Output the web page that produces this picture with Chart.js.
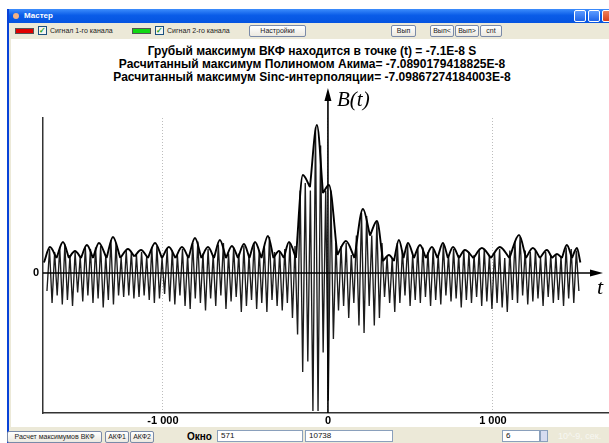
<!DOCTYPE html>
<html><head><meta charset="utf-8">
<script src="https://cdn.jsdelivr.net/npm/chart.js@4"></script>
<style>
html,body{margin:0;padding:0;width:609px;height:443px;overflow:hidden;background:#fff;font-family:"Liberation Sans",Arial,sans-serif}
#win{position:absolute;left:7px;top:9px;width:700px;height:440px;background:#ECE9D8;border-left:2px solid #0842d8}
#titlebar{position:absolute;left:0;top:0;width:700px;height:14px;background:linear-gradient(#3d8dfc,#0a5ce8 45%,#0554e0);color:#fff;font:bold 8px "Liberation Sans",Arial,sans-serif;line-height:14px}
#titlebar .ico{position:absolute;left:4px;top:4px;width:6px;height:6px;border-radius:3px;background:#f4b183}
#titlebar .cap{position:absolute;left:15px;top:0}
.wb{position:absolute;top:1px;width:12px;height:12px;border:1px solid #fff;border-radius:2px;background:linear-gradient(#5c9bff,#1e63e8);box-sizing:border-box}
.wb.close{background:linear-gradient(#f0805a,#d8401c)}
#toolbar{position:absolute;left:0;top:14px;width:700px;height:16px;background:#ECE9D8;font:7px "Liberation Sans",Arial,sans-serif;color:#222}
.sw{position:absolute;top:5px;width:19px;height:6px;border:1px solid #555;box-sizing:border-box}
.cb{position:absolute;top:3px;width:9px;height:9px;border:1px solid #1c5180;background:#f4f4f0;box-sizing:border-box;color:#21a121;font:bold 8px sans-serif;line-height:7px;text-align:center}
.lbl{position:absolute;top:4px;white-space:nowrap}
.btn{position:absolute;height:12px;border:1px solid #7a8aa8;border-radius:2px;background:linear-gradient(#fff,#ece9e0);box-sizing:border-box;font:7px "Liberation Sans",Arial,sans-serif;color:#222;text-align:center;line-height:10px;white-space:nowrap}
#client{position:absolute;left:2px;top:30px;width:700px;height:388px;background:#fff}
#bottom{position:absolute;left:0;top:418px;width:700px;height:30px;background:#ECE9D8}
.inp{position:absolute;height:12px;border:1px solid #8aa0bc;background:#fff;box-sizing:border-box;font:8px "Liberation Sans",Arial,sans-serif;line-height:10px;padding-left:3px;color:#111}
#chartBox{position:absolute;left:10px;top:39px;width:690px;height:388px}
#heading{position:absolute;left:0;top:45px;width:624px;text-align:center;font:bold 12px "Liberation Sans",Arial,sans-serif;line-height:13px;color:#000}
.math{position:absolute;font-family:"Liberation Serif","DejaVu Serif",serif;font-style:italic;color:#000}
</style></head>
<body>
<div id="win">
  <div id="titlebar"><div class="ico"></div><div class="cap">Мастер</div>
    <div class="wb" style="left:565px"></div><div class="wb" style="left:579px"></div><div class="wb close" style="left:593px"></div>
  </div>
  <div id="toolbar">
    <div class="sw" style="left:6px;background:#e00000"></div>
    <div class="cb" style="left:29px">✓</div>
    <div class="lbl" style="left:41px">Сигнал 1-го канала</div>
    <div class="sw" style="left:123px;background:#12d812"></div>
    <div class="cb" style="left:146px">✓</div>
    <div class="lbl" style="left:158px">Сигнал 2-го канала</div>
    <div class="btn" style="left:240px;top:2px;width:57px">Настройки</div>
    <div class="btn" style="left:382px;top:2px;width:25px">Вып</div>
    <div class="btn" style="left:421px;top:2px;width:24px">Вып&lt;</div>
    <div class="btn" style="left:446px;top:2px;width:24px">Вып&gt;</div>
    <div class="btn" style="left:471px;top:2px;width:22px">cnt</div>
  </div>
  <div id="client"></div>
  <div id="bottom">
    <div class="btn" style="left:-2px;top:4px;width:95px">Расчет максимумов ВКФ</div>
    <div class="btn" style="left:96px;top:4px;width:24px">АКФ1</div>
    <div class="btn" style="left:121px;top:4px;width:24px">АКФ2</div>
    <div style="position:absolute;left:178px;top:4px;font:bold 10px 'Liberation Sans',Arial,sans-serif">Окно</div>
    <div class="inp" style="left:208px;top:3px;width:86px">571</div>
    <div class="inp" style="left:296px;top:3px;width:88px">10738</div>
    <div class="inp" style="left:493px;top:3px;width:38px">6</div>
    <div style="position:absolute;left:531px;top:3px;width:8px;height:12px;background:#d6dcf0;border:1px solid #8aa0bc;box-sizing:border-box"></div>
    <div style="position:absolute;left:549px;top:4px;font:9px 'Liberation Sans',Arial,sans-serif;color:#f7f7f2">10^-9, сек.</div>
  </div>
</div>
<div id="heading">Грубый максимум ВКФ находится в точке (t) = -7.1E-8 S<br>Расчитанный максимум Полиномом Акима= -7.0890179418825E-8<br>Расчитанный максимум Sinc-интерполяции= -7.09867274184003E-8</div>
<div id="chartBox"><canvas id="c" width="690" height="388"></canvas></div>
<div class="math" style="left:337px;top:87px;font-size:21px">B(t)</div>
<div class="math" style="left:597px;top:274px;font-size:22px">t</div>
<script>
// Time axis ticks (10^-9 s) and the signal, sampled at carrier troughs/crests.
const timeTicks = [-1000, 0, 1000];
const valueTicks = [0];

// Carrier: troughs start at t = -1703, crests sit half a period later.
const carrierStart = -1703;
const carrierHalfPeriod = 15.5;
const troughs = [
  -0.12,-0.20,-0.15,-0.21,-0.18,-0.22,-0.13,-0.19,-0.15,-0.20,-0.17,-0.23,-0.18,-0.21,-0.15,
  -0.16,-0.15,-0.17,-0.16,-0.15,-0.18,-0.20,-0.17,-0.14,-0.19,-0.21,-0.15,-0.22,-0.24,-0.17,
  -0.20,-0.25,-0.17,-0.22,-0.15,-0.24,-0.19,-0.16,-0.26,-0.22,-0.18,-0.24,-0.20,-0.26,-0.18,-0.22,-0.25,-0.20,-0.30,
  -0.41,-0.66,-0.59,-0.92,-0.92,-0.53,-0.85,-0.44,-0.25,
  -0.22,-0.30,-0.20,-0.35,-0.40,-0.22,-0.35,-0.30,-0.16,-0.20,-0.26,-0.20,-0.15,-0.22,-0.18,
  -0.20,-0.16,-0.22,-0.18,-0.21,-0.15,-0.19,-0.17,-0.23,-0.18,-0.20,-0.16,-0.22,-0.19,-0.24,-0.20,
  -0.23,-0.26,-0.18,-0.20,-0.15,-0.21,-0.19,-0.17,-0.22,-0.16,-0.20,-0.18,-0.22,-0.17,-0.20,-0.12
];
const crests = [
  0.16,0.14,0.17,0.19,0.12,0.14,0.11,0.17,0.16,0.17,0.18,0.12,0.22,0.20,0.10,
  0.15,0.14,0.12,0.14,0.11,0.17,0.18,0.10,0.16,0.15,0.12,0.16,0.12,0.20,0.21,
  0.13,0.16,0.12,0.19,0.20,0.13,0.17,0.13,0.18,0.12,0.20,0.15,0.18,0.24,0.14,0.14,0.16,0.20,0.18,
  0.55,0.60,0.55,0.97,0.85,0.55,0.55,0.20,0.18,
  0.20,0.12,0.25,0.40,0.38,0.25,0.34,0.20,0.11,0.10,0.20,0.15,0.19,0.12,0.17,
  0.17,0.14,0.16,0.12,0.19,0.12,0.16,0.12,0.15,0.14,0.12,0.15,0.16,0.12,0.14,0.16,
  0.10,0.15,0.21,0.24,0.15,0.14,0.15,0.10,0.14,0.12,0.12,0.11,0.17,0.16,0.15
];

// Envelope lobes: centre time and height, with the boundaries between them.
const lobeTimes = [-1685,-1606,-1533,-1461,-1388,-1303,-1212,-1133,-1048,-964,-885,-806,-727,-655,-582,-509,-442,-364,-297,-236,-152,-67,6,109,212,297,370,430,485,558,630,697,758,830,933,1042,1158,1242,1327,1388,1448,1509];
const lobeHeights = [0.173,0.207,0.147,0.187,0.200,0.240,0.160,0.153,0.200,0.173,0.173,0.233,0.173,0.220,0.180,0.193,0.207,0.247,0.147,0.207,0.653,0.987,0.587,0.213,0.427,0.347,0.120,0.220,0.200,0.187,0.173,0.200,0.173,0.153,0.167,0.173,0.253,0.167,0.153,0.127,0.187,0.167];
const jointTimes = [-1721,-1645,-1570,-1497,-1424,-1342,-1258,-1173,-1091,-1006,-924,-845,-767,-691,-618,-545,-476,-403,-330,-267,-194,-109,-30,57,161,255,333,400,458,521,594,664,727,794,882,988,1100,1200,1285,1358,1418,1479,1530];
const jointHeights = [0.07,0.10,0.10,0.10,0.10,0.10,0.10,0.11,0.10,0.10,0.10,0.10,0.10,0.10,0.10,0.10,0.10,0.10,0.10,0.10,0.10,0.573,0.533,0.12,0.10,0.25,0.08,0.08,0.10,0.10,0.10,0.10,0.10,0.10,0.10,0.10,0.10,0.10,0.10,0.10,0.10,0.10,0.07];

// Interleave troughs and crests into one polyline.
const carrierPoints = [];
troughs.forEach((v, i) => {
  carrierPoints.push({x: carrierStart + 2 * i * carrierHalfPeriod, y: v});
  if (i < crests.length) carrierPoints.push({x: carrierStart + (2 * i + 1) * carrierHalfPeriod, y: crests[i]});
});

// Each lobe is its own short curve so neighbouring lobes meet in a cusp.
const envelopePoints = [];
lobeTimes.forEach((t, i) => {
  envelopePoints.push({x: jointTimes[i], y: jointHeights[i]});
  envelopePoints.push({x: t, y: lobeHeights[i]});
  envelopePoints.push({x: jointTimes[i + 1], y: jointHeights[i + 1]});
  envelopePoints.push({x: jointTimes[i + 1], y: null});
});

const axisArrows = {
  id: 'axisArrows',
  afterDatasetsDraw(chart) {
    const {ctx, chartArea, scales: {x, y}} = chart;
    const x0 = x.getPixelForValue(0), y0 = y.getPixelForValue(0);
    const xEnd = 593, yTop = 49;
    ctx.save();
    ctx.strokeStyle = '#000'; ctx.fillStyle = '#000'; ctx.lineWidth = 1.6;
    ctx.beginPath();
    ctx.moveTo(chartArea.left, y0); ctx.lineTo(xEnd - 8, y0);
    ctx.moveTo(x0, chartArea.bottom); ctx.lineTo(x0, yTop + 10);
    ctx.stroke();
    ctx.beginPath();
    ctx.moveTo(xEnd, y0); ctx.lineTo(xEnd - 13, y0 - 3.5); ctx.lineTo(xEnd - 13, y0 + 3.5); ctx.closePath();
    ctx.moveTo(x0, yTop); ctx.lineTo(x0 - 3.5, yTop + 13); ctx.lineTo(x0 + 3.5, yTop + 13); ctx.closePath();
    ctx.fill();
    ctx.restore();
  }
};

new Chart(document.getElementById('c'), {
  type: 'line',
  data: {
    datasets: [
      {data: envelopePoints, borderColor: '#000', borderWidth: 1.9, pointRadius: 0,
       cubicInterpolationMode: 'monotone', spanGaps: false, fill: false},
      {data: carrierPoints, borderColor: '#1c1c1c', borderWidth: 1.35, pointRadius: 0,
       tension: 0, fill: false}
    ]
  },
  options: {
    responsive: false, animation: false, events: [],
    layout: {padding: {top: 79, right: 0, left: 0, bottom: 0}},
    plugins: {legend: {display: false}, tooltip: {enabled: false}, title: {display: false}},
    scales: {
      x: {
        type: 'linear', min: -1727, max: 2255,
        afterBuildTicks: s => { s.ticks = timeTicks.map(v => ({value: v})); },
        afterFit: s => { s.height = 14; },
        ticks: {
          color: '#000', padding: 1, maxRotation: 0, autoSkip: false,
          font: {family: '"Liberation Sans", Arial, sans-serif', size: 11, weight: 'bold'},
          callback: v => (v < 0 ? '-' : '') + Math.abs(v).toString().replace(/\B(?=(\d{3})+(?!\d))/g, ' ')
        },
        grid: {color: '#bdbdbd', lineWidth: 1, drawTicks: false},
        // dash applies to the vertical grid lines; the axis border itself stays solid
        border: {display: true, color: '#333', width: 1.5, dash: [1, 2]}
      },
      y: {
        type: 'linear', min: -0.9333, max: 1.0333,
        afterBuildTicks: s => { s.ticks = valueTicks.map(v => ({value: v})); },
        afterFit: s => { s.width = 33; },
        ticks: {color: '#000', padding: 4,
          font: {family: '"Liberation Sans", Arial, sans-serif', size: 11, weight: 'bold'}},
        grid: {display: false, drawTicks: false},
        border: {display: true, color: '#333', width: 1.5}
      }
    }
  },
  plugins: [axisArrows]
});
</script>
</body></html>
